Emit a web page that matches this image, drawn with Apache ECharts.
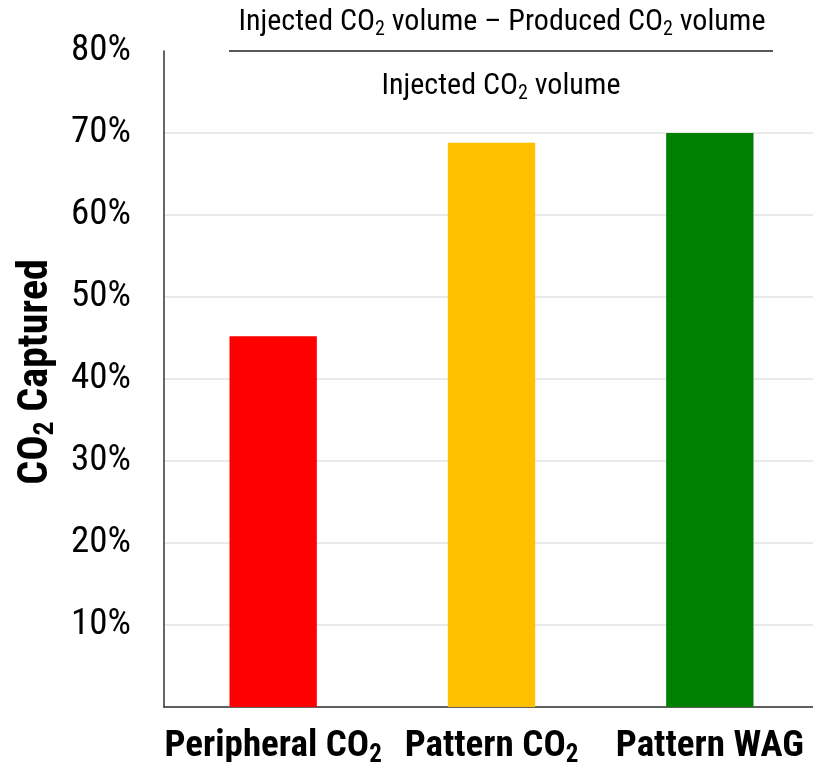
<!DOCTYPE html>
<html>
<head>
<meta charset="utf-8">
<script src="https://cdn.jsdelivr.net/npm/echarts@6/dist/echarts.min.js"></script>
<style>html,body{margin:0;padding:0;background:#fff}#c{width:813px;height:762px}</style>
</head>
<body>
<div id="c"></div>
<script>
const categories = ['Peripheral CO2', 'Pattern CO2', 'Pattern WAG'];
const captured = [45.2, 68.8, 70.0];
const barColors = ['#ff0000', '#ffc000', '#008000'];
const yTicks = [0, 10, 20, 30, 40, 50, 60, 70, 80];

const FONT = '"Roboto Condensed", "Liberation Sans", sans-serif';

function sub(label, styleName) {
  const m = label.match(/^(.*CO)2$/);
  if (m) return '{' + styleName + '|' + m[1] + '}{' + styleName + 's|2}';
  return '{' + styleName + '|' + label + '}{' + styleName + 's|\u200b}';
}

const chart = echarts.init(document.getElementById('c'), null, {renderer: 'canvas'});
chart.setOption({
  animation: false,
  grid: {left: 164, right: -6, top: 51, bottom: 55, containLabel: false, outerBoundsMode: 'none'},
  xAxis: {
    type: 'category',
    data: categories,
    axisLine: {show: true, lineStyle: {color: '#333', width: 1.5}},
    axisTick: {show: false},
    axisLabel: {
      margin: 18,
      interval: 0,
      formatter: v => sub(v, 'b'),
      rich: {
        b: {fontFamily: FONT, fontWeight: 'bold', fontSize: 37, color: '#000'},
        bs: {fontFamily: FONT, fontWeight: 'bold', fontSize: 25, color: '#000', padding: [18, 0, 0, 0]}
      }
    }
  },
  yAxis: {
    type: 'value',
    min: yTicks[0], max: yTicks[yTicks.length - 1], interval: yTicks[1] - yTicks[0],
    name: '{n|CO}{ns|2}{n| Captured}',
    nameLocation: 'middle',
    nameGap: 103,
    nameRotate: 90,
    nameTextStyle: {
      padding: [0, 0, 0, 14],
      rich: {
        n: {fontFamily: FONT, fontWeight: 'bold', fontSize: 42, color: '#000'},
        ns: {fontFamily: FONT, fontWeight: 'bold', fontSize: 28, color: '#000', padding: [20, 0, 0, 0]}
      }
    },
    axisLine: {show: true, lineStyle: {color: '#333', width: 1.5}},
    axisTick: {show: false},
    axisLabel: {
      margin: 33,
      fontFamily: FONT, fontSize: 37, color: '#000',
      formatter: v => (v === 0 ? '' : v + '%')
    },
    splitLine: {show: true, lineStyle: {color: ['#e3e3e3','#e3e3e3','#e3e3e3','#e3e3e3','#e3e3e3','#e3e3e3','#e3e3e3','#e3e3e3','rgba(0,0,0,0)'], width: 1.5}}
  },
  series: [{
    type: 'bar',
    data: captured.map((v, i) => ({value: v, itemStyle: {color: barColors[i]}})),
    barWidth: '40%'
  }],
  graphic: [
    {type: 'text', style: {
      x: 502, y: 22, align: 'center', verticalAlign: 'middle',
      text: '{t|Injected CO}{ts|2}{t| volume – Produced CO}{ts|2}{t| volume}',
      rich: {
        t: {fontFamily: FONT, fontSize: 30, color: '#000'},
        ts: {fontFamily: FONT, fontSize: 20, color: '#000', padding: [15, 0, 0, 0]}
      }
    }},
    {type: 'line', shape: {x1: 229, y1: 51, x2: 773, y2: 51}, style: {stroke: '#222', lineWidth: 1.5}, z: 10},
    {type: 'text', style: {
      x: 501, y: 86, align: 'center', verticalAlign: 'middle',
      text: '{t|Injected CO}{ts|2}{t| volume}',
      rich: {
        t: {fontFamily: FONT, fontSize: 30, color: '#000'},
        ts: {fontFamily: FONT, fontSize: 20, color: '#000', padding: [15, 0, 0, 0]}
      }
    }}
  ]
});
</script>
</body>
</html>
